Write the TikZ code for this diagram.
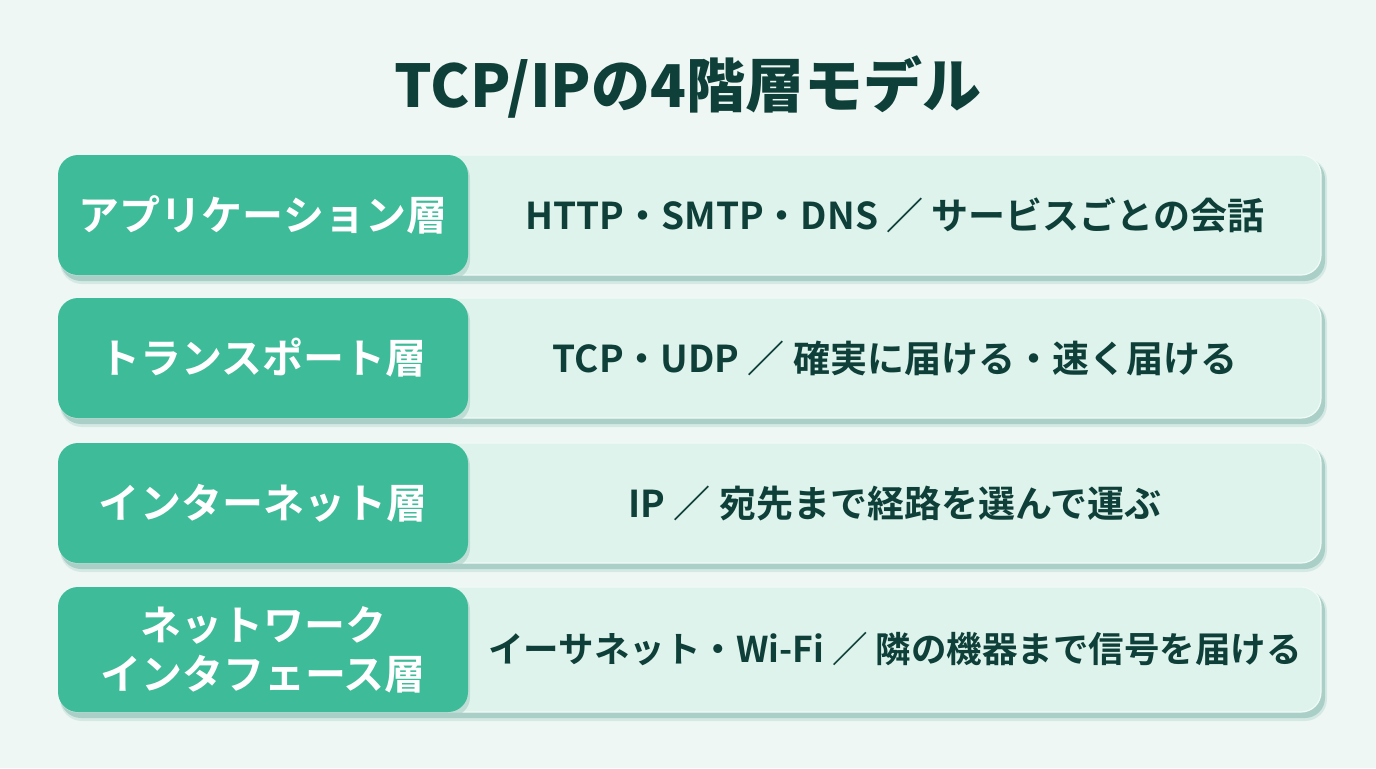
\documentclass[tikz,border=0pt]{standalone}
\usepackage{fontspec}
\setmainfont{Noto Sans CJK JP}[UprightFont={* Bold}]
\newfontfamily\heavyjp{Noto Sans CJK JP}[UprightFont={* Black}]
\definecolor{bg}{HTML}{EEF7F4}
\definecolor{grn}{HTML}{3EBB99}
\definecolor{panel}{HTML}{DEF3EC}
\definecolor{shd}{HTML}{A9CFC7}
\definecolor{ink}{HTML}{0E3F38}
\tikzset{
  layerbox/.style={fill=grn, rounded corners=20bp},
  panelbox/.style={fill=panel, draw=white!60!panel, line width=1.2bp, rounded corners=20bp},
  shadowbox/.style={fill=shd, rounded corners=20bp},
  lbl/.style={text=white, font=\fontsize{41bp}{49bp}\selectfont, align=center, inner sep=0pt},
  desc/.style={text=ink, font=\fontsize{37bp}{44bp}\selectfont, inner sep=0pt},
  ttl/.style={text=ink, font=\heavyjp\fontsize{59bp}{66bp}\selectfont, inner sep=0pt}
}
\begin{document}
\begin{tikzpicture}[x=1bp,y=-1bp]
\fill[bg] (0,0) rectangle (1376,768);
\useasboundingbox (0,0) rectangle (1376,768);
\node[ttl] (title) at (688,87) {TCP/IPの4階層モデル};
% rows: top, bottom, label, description
\foreach \t/\b/\n in {155/275/r1, 298/418/r2, 443/563/r3, 587/712/r4}{
  \fill[shd, opacity=0.35, rounded corners=22bp] (60,\t+3) rectangle (1327,\b+9);
  \fill[shadowbox] (61,\t+4) rectangle (1325,\b+6);
  \fill[panelbox] (58,\t) rectangle (1321,\b);
  \fill[shd, opacity=0.6, rounded corners=20bp] (60,\t+3) rectangle (470,\b+5);
  \fill[layerbox] (58,\t) rectangle (468,\b);
  \coordinate (\n l) at (263,{(\t+\b)/2});
  \coordinate (\n d) at (895,{(\t+\b)/2});
}
\node[lbl] (l1) at (r1l) {アプリケーション層};
\node[lbl] (l2) at (r2l) {トランスポート層};
\node[lbl] (l3) at (r3l) {インターネット層};
\node[lbl] (l4) at (r4l) {ネットワーク\\インタフェース層};
\node[desc] (d1) at (r1d) {HTTP・SMTP・DNS ／ サービスごとの会話};
\node[desc] (d2) at (r2d) {TCP・UDP ／ 確実に届ける・速く届ける};
\node[desc] (d3) at (r3d) {IP ／ 宛先まで経路を選んで運ぶ};
\node[desc, font=\fontsize{35.5bp}{42bp}\selectfont] (d4) at (r4d) {イーサネット・Wi-Fi ／ 隣の機器まで信号を届ける};
\end{tikzpicture}
\end{document}
